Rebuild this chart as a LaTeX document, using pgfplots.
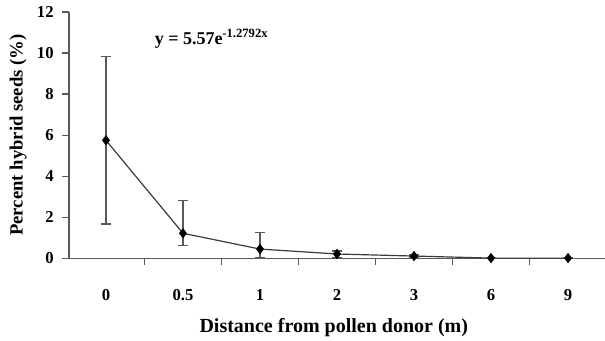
\documentclass[border=0pt]{standalone}
\usepackage{fontspec}
\setmainfont{Liberation Serif}
\usepackage{pgfplots}
\pgfplotsset{compat=1.18}
\usepackage{pgfplotstable}
\definecolor{axgray}{HTML}{595959}
\definecolor{lngray}{HTML}{3A3A3A}
\pgfplotstableread{
pos y ep em
0 5.75 4.08 4.08
1 1.22 1.59 0.60
2 0.45 0.80 0.40
3 0.21 0.15 0.20
4 0.11 0.05 0.05
5 0.01 0.00 0.00
6 0.01 0.00 0.00
}\datatab
\begin{document}
\begin{tikzpicture}[x=0.75pt,y=0.75pt]
\useasboundingbox (-69,-81.7) rectangle (536,258.3);
\begin{axis}[
  at={(0,0)}, anchor=south west,
  scale only axis, width=402pt, height=184.7pt,
  xmin=-0.48, xmax=6.48, ymin=0, ymax=12,
  axis x line*=bottom, axis y line*=left,
  axis line style={axgray, line width=1.1pt},
  xtick={0,1,2,3,4,5,6},
  xticklabels={0,0.5,1,2,3,6,9},
  major x tick style={draw=none},
  minor xtick={0.5,1.5,2.5,3.5,4.5,5.5},
  minor x tick style={axgray, line width=1pt},
  minor tick length=5pt,
  ytick={0,2,4,6,8,10,12},
  y tick style={axgray, line width=1pt},
  major tick length=5pt,
  tick align=outside,
  minor tick style={/pgfplots/tick align=inside},
  xticklabel style={font=\bfseries\fontsize{12.5}{14}\selectfont, yshift=-14.5pt},
  yticklabel style={font=\bfseries\fontsize{12.5}{14}\selectfont, xshift=-3pt},
  /pgf/number format/assume math mode=true,
  xlabel={\bfseries Distance from pollen donor (m)},
  xlabel style={font=\fontsize{15}{17}\selectfont, at={(axis description cs:0.494,-0.303)}, anchor=base},
  ylabel={\bfseries Percent hybrid seeds (\%)},
  ylabel style={font=\fontsize{14}{16}\selectfont, at={(axis description cs:-0.095,0.5)}, anchor=center, rotate=0},
  clip=false,
]
\addplot[lngray, line width=0.9pt, mark=diamond*, mark size=3.2pt,
  mark options={black, fill=black},
  error bars/.cd, y dir=both, y explicit,
  error bar style={axgray, line width=1pt},
  error mark options={rotate=90, mark size=4pt, axgray, line width=1pt}]
  table[x=pos, y=y, y error plus=ep, y error minus=em] {\datatab};
\node[anchor=base west, font=\bfseries\fontsize{13.5}{15}\selectfont, inner sep=0pt]
  at (axis cs:0.63,10.4) {y = 5.57e\textsuperscript{-1.2792x}};
\end{axis}
\end{tikzpicture}
\end{document}
